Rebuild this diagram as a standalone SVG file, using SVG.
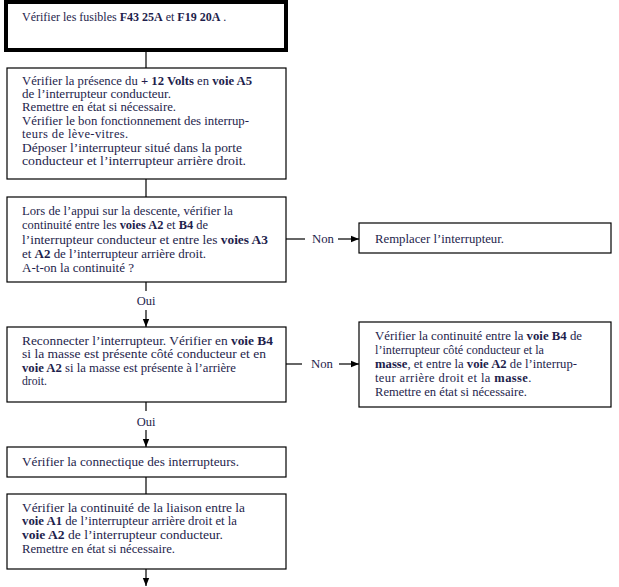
<svg xmlns="http://www.w3.org/2000/svg" width="619" height="587" viewBox="0 0 619 587">
<defs>
<marker id="ah" viewBox="0 0 8 8" refX="8" refY="4" markerWidth="8" markerHeight="8" markerUnits="userSpaceOnUse" orient="auto">
<path d="M0,0.8 L8,4 L0,7.2 Z" fill="#000"/>
</marker>
<style>
.box{fill:#fff;stroke:#000;stroke-width:1.2}
.thick{fill:#fff;stroke:#000;stroke-width:4}
.t{font-family:"Liberation Serif","Times New Roman",serif;font-size:12.5px;fill:#1e1e4c}
.b{font-weight:bold}
.ls{letter-spacing:0.4px}
.ln{stroke:#000;stroke-width:1.2;fill:none}
.arr{stroke:#000;stroke-width:1.2;fill:none;marker-end:url(#ah)}
</style>
</defs>
<rect width="619" height="587" fill="#fff"/>
<g id="connectors">
<line class="ln" x1="146" y1="50" x2="146" y2="68"/>
<line class="ln" x1="146" y1="179" x2="146" y2="197"/>
<line class="ln" x1="146" y1="282" x2="146" y2="291"/>
<line class="arr" x1="146" y1="310" x2="146" y2="327"/>
<line class="ln" x1="286" y1="239" x2="305" y2="239"/>
<line class="arr" x1="338" y1="239" x2="359" y2="239"/>
<line class="ln" x1="146" y1="402" x2="146" y2="411"/>
<line class="arr" x1="146" y1="430" x2="146" y2="447"/>
<line class="ln" x1="286" y1="364" x2="302" y2="364"/>
<line class="arr" x1="339" y1="364" x2="359" y2="364"/>
<line class="ln" x1="146" y1="477" x2="146" y2="494"/>
<line class="arr" x1="146" y1="569" x2="146" y2="586"/>
<text class="t" x="146" y="305" text-anchor="middle">Oui</text>
<text class="t" x="146" y="426" text-anchor="middle">Oui</text>
<text class="t" x="312" y="243" textLength="22" lengthAdjust="spacingAndGlyphs">Non</text>
<text class="t" x="311" y="368" textLength="22" lengthAdjust="spacingAndGlyphs">Non</text>
</g>
<g id="n1">
<rect class="thick" x="6" y="2" width="280" height="48"/>
<text class="t" x="22" y="21" style="font-size:12px">Vérifier les fusibles <tspan class="b">F43 25A</tspan> et <tspan class="b">F19 20A</tspan> .</text>
</g>
<g id="n2">
<rect class="box" x="7" y="68" width="279" height="111"/>
<text class="t" x="22" y="85" textLength="230" lengthAdjust="spacingAndGlyphs">Vérifier la présence du <tspan class="b">+ 12 Volts</tspan> en <tspan class="b">voie A5</tspan></text>
<text class="t" x="22" y="98" textLength="149" lengthAdjust="spacingAndGlyphs">de l’interrupteur conducteur.</text>
<text class="t" x="22" y="111" textLength="154" lengthAdjust="spacingAndGlyphs">Remettre en état si nécessaire.</text>
<text class="t" x="22" y="125" textLength="227" lengthAdjust="spacingAndGlyphs">Vérifier le bon fonctionnement des interrup-</text>
<text class="t ls" x="22" y="138">teurs de lève-vitres.</text>
<text class="t" x="22" y="152" textLength="220" lengthAdjust="spacingAndGlyphs">Déposer l’interrupteur situé dans la porte</text>
<text class="t" x="22" y="165" textLength="224" lengthAdjust="spacingAndGlyphs">conducteur et l’interrupteur arrière droit.</text>
</g>
<g id="n3">
<rect class="box" x="7" y="197" width="279" height="85"/>
<text class="t" x="22" y="215" textLength="211" lengthAdjust="spacingAndGlyphs">Lors de l’appui sur la descente, vérifier la</text>
<text class="t" x="22" y="229" textLength="186" lengthAdjust="spacingAndGlyphs">continuité entre les <tspan class="b">voies A2</tspan> et <tspan class="b">B4</tspan> de</text>
<text class="t" x="22" y="244" textLength="246" lengthAdjust="spacingAndGlyphs">l’interrupteur conducteur et entre les <tspan class="b">voies A3</tspan></text>
<text class="t" x="22" y="258" textLength="184" lengthAdjust="spacingAndGlyphs">et <tspan class="b">A2</tspan> de l’interrupteur arrière droit.</text>
<text class="t" x="22" y="272" textLength="112" lengthAdjust="spacingAndGlyphs">A-t-on la continuité ?</text>
</g>
<g id="n4">
<rect class="box" x="359" y="223" width="252" height="30"/>
<text class="t" x="375" y="243" textLength="129" lengthAdjust="spacingAndGlyphs">Remplacer l’interrupteur.</text>
</g>
<g id="n5">
<rect class="box" x="7" y="327" width="279" height="75"/>
<text class="t" x="22" y="345" textLength="251" lengthAdjust="spacingAndGlyphs">Reconnecter l’interrupteur. Vérifier en <tspan class="b">voie B4</tspan></text>
<text class="t" x="22" y="358" textLength="244" lengthAdjust="spacingAndGlyphs">si la masse est présente  côté conducteur et en</text>
<text class="t" x="22" y="372" textLength="214" lengthAdjust="spacingAndGlyphs"><tspan class="b">voie A2</tspan> si la masse est présente à l’arrière</text>
<text class="t" x="22" y="385" textLength="25" lengthAdjust="spacingAndGlyphs">droit.</text>
</g>
<g id="n6">
<rect class="box" x="359" y="322" width="252" height="85"/>
<text class="t" x="375" y="340" textLength="207" lengthAdjust="spacingAndGlyphs">Vérifier la continuité entre la <tspan class="b">voie B4</tspan>  de</text>
<text class="t" x="375" y="354" textLength="169" lengthAdjust="spacingAndGlyphs">l’interrupteur côté conducteur et la</text>
<text class="t" x="375" y="368" textLength="202" lengthAdjust="spacingAndGlyphs"><tspan class="b">masse</tspan>, et entre la <tspan class="b">voie A2</tspan> de l’interrup-</text>
<text class="t ls" x="375" y="382">teur arrière droit et la <tspan class="b">masse</tspan>.</text>
<text class="t" x="375" y="396" textLength="152" lengthAdjust="spacingAndGlyphs">Remettre en état si nécessaire.</text>
</g>
<g id="n7">
<rect class="box" x="7" y="447" width="279" height="30"/>
<text class="t" x="22" y="466" textLength="217" lengthAdjust="spacingAndGlyphs">Vérifier la connectique des interrupteurs.</text>
</g>
<g id="n8">
<rect class="box" x="7" y="494" width="279" height="75"/>
<text class="t" x="22" y="512" textLength="223" lengthAdjust="spacingAndGlyphs">Vérifier la continuité de la liaison entre la</text>
<text class="t" x="22" y="525" textLength="215" lengthAdjust="spacingAndGlyphs"><tspan class="b">voie A1</tspan> de l’interrupteur arrière droit et la</text>
<text class="t" x="22" y="539" textLength="201" lengthAdjust="spacingAndGlyphs"><tspan class="b">voie A2</tspan> de l’interrupteur conducteur.</text>
<text class="t" x="22" y="553" textLength="153" lengthAdjust="spacingAndGlyphs">Remettre en état si nécessaire.</text>
</g>
</svg>
